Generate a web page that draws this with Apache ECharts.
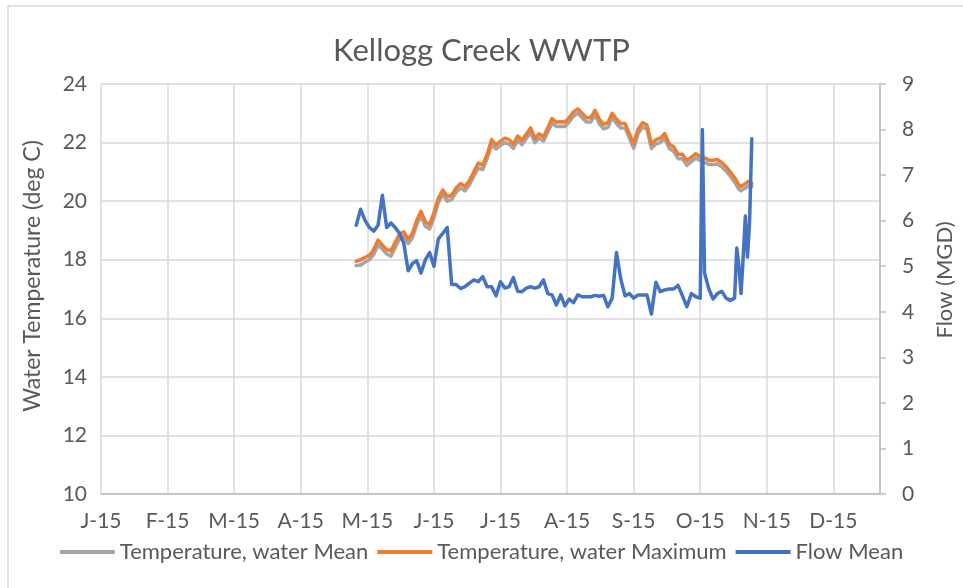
<!DOCTYPE html>
<html>
<head>
<meta charset="utf-8">
<script src="https://cdn.jsdelivr.net/npm/echarts@6/dist/echarts.min.js"></script>
<style>
  html, body { margin: 0; padding: 0; background: #ffffff; }
  #chart { width: 963px; height: 588px; }
</style>
</head>
<body>
<div id="chart"></div>
<script>
// Month tick labels for the date axis (one per month of 2015)
const monthLabels = ['J-15', 'F-15', 'M-15', 'A-15', 'M-15', 'J-15', 'J-15', 'A-15', 'S-15', 'O-15', 'N-15', 'D-15'];

// Observation dates
const dates = [
  '2015-04-26', '2015-04-28', '2015-04-30', '2015-05-02', '2015-05-04', '2015-05-06', '2015-05-08', '2015-05-10',
  '2015-05-12', '2015-05-14', '2015-05-16', '2015-05-18', '2015-05-20', '2015-05-22', '2015-05-24', '2015-05-26',
  '2015-05-28', '2015-05-30', '2015-06-01', '2015-06-03', '2015-06-05', '2015-06-07', '2015-06-09', '2015-06-11',
  '2015-06-13', '2015-06-15', '2015-06-17', '2015-06-19', '2015-06-21', '2015-06-23', '2015-06-25', '2015-06-27',
  '2015-06-29', '2015-07-01', '2015-07-03', '2015-07-05', '2015-07-07', '2015-07-09', '2015-07-11', '2015-07-13',
  '2015-07-15', '2015-07-17', '2015-07-19', '2015-07-21', '2015-07-23', '2015-07-25', '2015-07-27', '2015-07-29',
  '2015-07-31', '2015-08-02', '2015-08-04', '2015-08-06', '2015-08-08', '2015-08-10', '2015-08-12', '2015-08-14',
  '2015-08-16', '2015-08-18', '2015-08-20', '2015-08-22', '2015-08-24', '2015-08-26', '2015-08-28', '2015-08-30',
  '2015-09-01', '2015-09-03', '2015-09-05', '2015-09-07', '2015-09-09', '2015-09-11', '2015-09-13', '2015-09-15',
  '2015-09-17', '2015-09-19', '2015-09-21', '2015-09-23', '2015-09-25', '2015-09-27', '2015-09-29', '2015-10-01',
  '2015-10-02', '2015-10-03', '2015-10-05', '2015-10-07', '2015-10-09', '2015-10-11', '2015-10-13', '2015-10-15',
  '2015-10-17', '2015-10-18', '2015-10-19', '2015-10-20', '2015-10-21', '2015-10-22', '2015-10-23', '2015-10-24',
  '2015-10-25'
];

// Temperature, water Mean (deg C)
const tempMean = [
  17.80, 17.82, 17.92, 18.00, 18.18, 18.50, 18.36, 18.20,
  18.12, 18.42, 18.72, 18.80, 18.55, 18.75, 19.20, 19.50,
  19.14, 19.05, 19.43, 19.95, 20.22, 20.00, 20.05, 20.30,
  20.45, 20.35, 20.55, 20.85, 21.13, 21.08, 21.45, 21.93,
  21.78, 21.90, 22.00, 21.95, 21.80, 22.07, 21.93, 22.13,
  22.35, 22.00, 22.15, 22.05, 22.35, 22.66, 22.55, 22.56,
  22.55, 22.70, 22.90, 23.00, 22.85, 22.70, 22.70, 22.95,
  22.65, 22.47, 22.52, 22.85, 22.65, 22.50, 22.50, 22.15,
  21.80, 22.30, 22.53, 22.45, 21.80, 21.95, 22.00, 22.15,
  21.80, 21.70, 21.45, 21.45, 21.22, 21.35, 21.47, 21.38,
  21.35, 21.33, 21.25, 21.25, 21.27, 21.17, 21.03, 20.85,
  20.65, 20.53, 20.40, 20.35, 20.40, 20.45, 20.50, 20.55,
  20.50
];

// Temperature, water Maximum (deg C)
const tempMax = [
  17.95, 18.00, 18.08, 18.15, 18.35, 18.67, 18.50, 18.35,
  18.30, 18.60, 18.88, 18.95, 18.70, 18.90, 19.35, 19.65,
  19.30, 19.20, 19.60, 20.10, 20.38, 20.15, 20.20, 20.45,
  20.60, 20.50, 20.70, 21.00, 21.30, 21.23, 21.60, 22.10,
  21.92, 22.05, 22.15, 22.10, 21.95, 22.22, 22.08, 22.28,
  22.50, 22.15, 22.30, 22.20, 22.50, 22.82, 22.70, 22.71,
  22.70, 22.85, 23.05, 23.15, 23.00, 22.85, 22.85, 23.10,
  22.80, 22.62, 22.68, 23.00, 22.80, 22.65, 22.65, 22.30,
  21.95, 22.45, 22.68, 22.60, 21.95, 22.10, 22.15, 22.31,
  21.95, 21.86, 21.60, 21.60, 21.38, 21.50, 21.62, 21.52,
  21.50, 21.48, 21.40, 21.40, 21.42, 21.32, 21.18, 21.00,
  20.80, 20.68, 20.55, 20.50, 20.55, 20.60, 20.65, 20.70,
  20.60
];

// Flow Mean (MGD)
const flowMean = [
  5.90, 6.25, 6.00, 5.85, 5.77, 5.90, 6.56, 5.85,
  5.95, 5.85, 5.72, 5.50, 4.90, 5.06, 5.12, 4.85,
  5.14, 5.30, 5.00, 5.60, 5.72, 5.85, 4.60, 4.60,
  4.51, 4.55, 4.63, 4.70, 4.66, 4.77, 4.55, 4.55,
  4.35, 4.66, 4.52, 4.55, 4.75, 4.45, 4.44, 4.52,
  4.55, 4.52, 4.55, 4.70, 4.40, 4.37, 4.15, 4.37,
  4.13, 4.28, 4.20, 4.37, 4.33, 4.33, 4.33, 4.36,
  4.34, 4.36, 4.11, 4.30, 5.30, 4.72, 4.35, 4.40,
  4.30, 4.37, 4.37, 4.37, 3.95, 4.65, 4.44, 4.48,
  4.50, 4.50, 4.58, 4.35, 4.11, 4.40, 4.33, 4.30,
  8.00, 4.85, 4.50, 4.28, 4.40, 4.45, 4.30, 4.25,
  4.30, 5.40, 5.00, 4.40, 5.20, 6.10, 5.20, 6.00,
  7.80
];

// Position of a date on the month axis (each month spans one unit)
function monthPosition(iso) {
  const parts = iso.split('-').map(Number);
  const daysInMonth = new Date(parts[0], parts[1], 0).getDate();
  return (parts[1] - 1) + (parts[2] - 1) / daysInMonth;
}

function pairs(values) {
  return dates.map((d, i) => [monthPosition(d), values[i]]);
}

const FONT = 'Lato, "Liberation Sans", sans-serif';
const TEXT = '#595959';
const GRID = '#D9D9D9';
const AXIS = '#BFBFBF';

const chart = echarts.init(document.getElementById('chart'), null, { renderer: 'canvas' });

chart.setOption({
  backgroundColor: '#ffffff',
  animation: false,
  title: {
    text: 'Kellogg Creek WWTP',
    left: 'center',
    top: 30,
    textStyle: { fontFamily: FONT, fontSize: 31, fontWeight: 'normal', color: TEXT }
  },
  legend: {
    bottom: 20,
    left: 'center',
    icon: 'rect',
    itemWidth: 55,
    itemHeight: 4,
    itemGap: 9,
    textStyle: { fontFamily: FONT, fontSize: 22, color: TEXT },
    data: ['Temperature, water Mean', 'Temperature, water Maximum', 'Flow Mean']
  },
  grid: { left: 101, right: 83, top: 84, bottom: 94, containLabel: false },
  xAxis: {
    type: 'value',
    min: 0,
    max: 11.7,
    interval: 1,
    axisLine: { show: true, lineStyle: { color: AXIS, width: 1.5 } },
    axisTick: { show: false },
    axisLabel: {
      margin: 17,
      fontFamily: FONT, fontSize: 21, color: TEXT,
      showMaxLabel: false,
      formatter: v => (Number.isInteger(v) && monthLabels[v]) ? monthLabels[v] : ''
    },
    splitLine: { show: true, lineStyle: { color: GRID, width: 1.5 } }
  },
  yAxis: [
    {
      type: 'value',
      min: 10, max: 24, interval: 2,
      axisLine: { show: false },
      axisTick: { show: false },
      axisLabel: { margin: 14, fontFamily: FONT, fontSize: 21, color: TEXT },
      splitLine: { show: true, lineStyle: { color: GRID, width: 1.5 } }
    },
    {
      type: 'value',
      min: 0, max: 9, interval: 1,
      position: 'right',
      axisLine: { show: true, lineStyle: { color: AXIS, width: 1.5 } },
      axisTick: { show: true, inside: false, length: 6, lineStyle: { color: AXIS, width: 1.5 } },
      axisLabel: { margin: 22, fontFamily: FONT, fontSize: 21, color: TEXT },
      splitLine: { show: false }
    }
  ],
  graphic: [
    {
      type: 'rect',
      shape: { x: 8, y: 6, width: 1000, height: 1000 },
      style: { fill: 'none', stroke: GRID, lineWidth: 1.5 },
      silent: true
    },
    {
      type: 'text',
      x: 33, y: 276,
      rotation: Math.PI / 2,
      style: {
        text: 'Water Temperature (deg C)',
        fontFamily: FONT, fontSize: 23, fill: TEXT,
        align: 'center', verticalAlign: 'middle'
      }
    },
    {
      type: 'text',
      x: 945, y: 280,
      rotation: Math.PI / 2,
      style: {
        text: 'Flow (MGD)',
        fontFamily: FONT, fontSize: 22, fill: TEXT,
        align: 'center', verticalAlign: 'middle'
      }
    }
  ],
  series: [
    {
      name: 'Temperature, water Mean',
      type: 'line',
      yAxisIndex: 0,
      data: pairs(tempMean),
      showSymbol: false,
      color: '#A5A5A5',
      lineStyle: { width: 3.5, color: '#A5A5A5', join: 'round', cap: 'round' }
    },
    {
      name: 'Temperature, water Maximum',
      type: 'line',
      yAxisIndex: 0,
      data: pairs(tempMax),
      showSymbol: false,
      color: '#ED7D31',
      lineStyle: { width: 3.5, color: '#ED7D31', join: 'round', cap: 'round' }
    },
    {
      name: 'Flow Mean',
      type: 'line',
      yAxisIndex: 1,
      data: pairs(flowMean),
      showSymbol: false,
      color: '#4472C4',
      lineStyle: { width: 3.5, color: '#4472C4', join: 'round', cap: 'round' }
    }
  ]
});
</script>
</body>
</html>
